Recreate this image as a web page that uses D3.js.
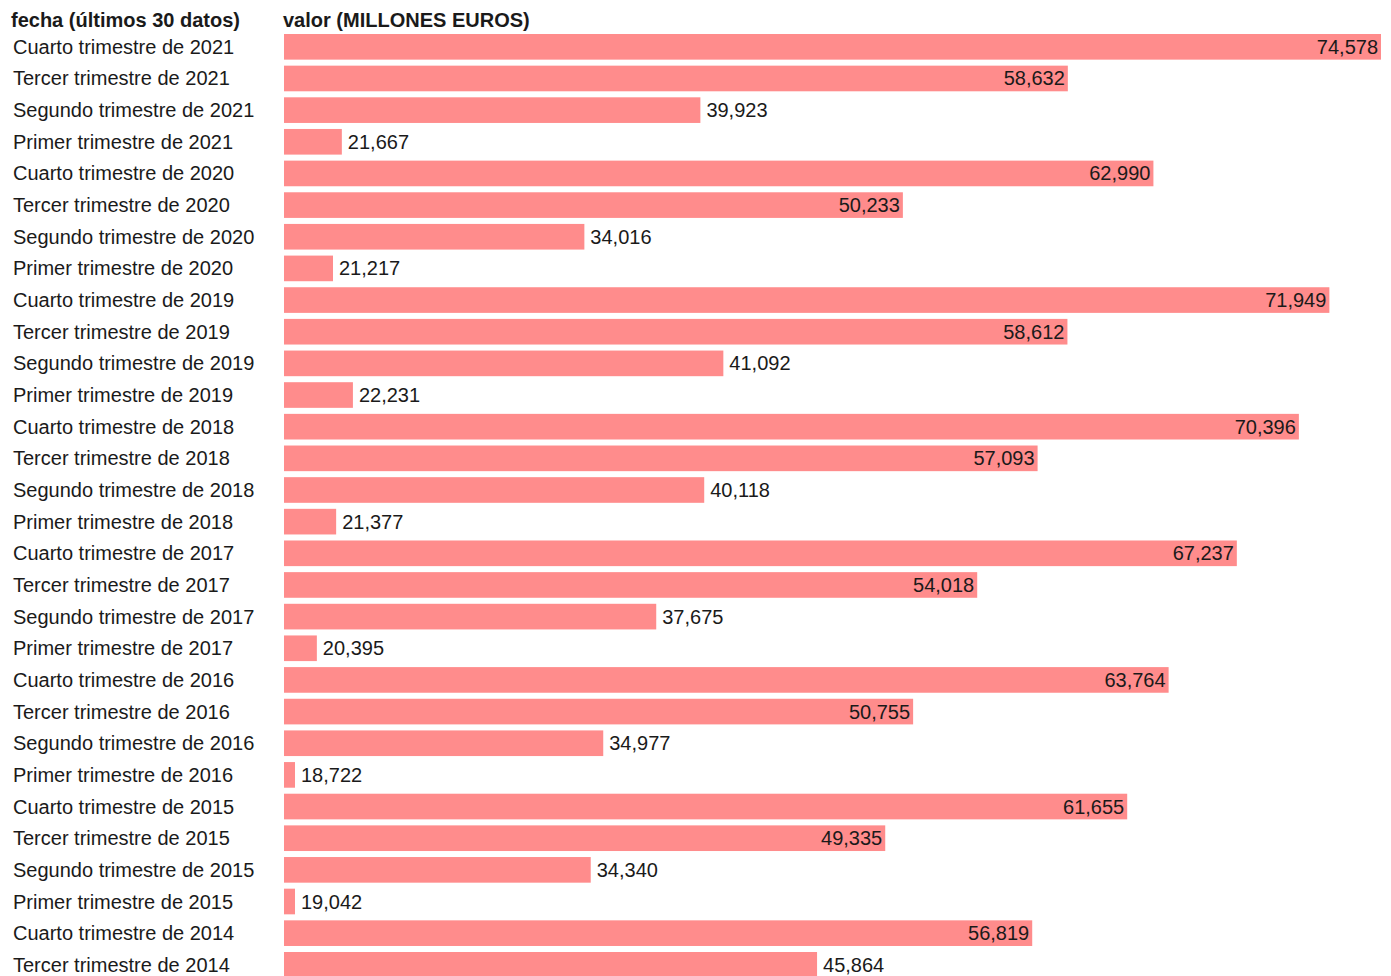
<!DOCTYPE html>
<html>
<head>
<meta charset="utf-8">
<script src="https://cdn.jsdelivr.net/npm/d3@7"></script>
<style>
  body { margin: 0; background: #fff; font-family: "Liberation Sans", Arial, sans-serif; }
  .lbl { font-size: 20px; fill: #1a1a1a; }
  .head { font-size: 20px; font-weight: bold; fill: #1a1a1a; }
</style>
</head>
<body>
<svg id="chart"></svg>
<script>
var fechas = [
	"Cuarto trimestre de 2021", "Tercer trimestre de 2021", "Segundo trimestre de 2021", "Primer trimestre de 2021",
	"Cuarto trimestre de 2020", "Tercer trimestre de 2020", "Segundo trimestre de 2020", "Primer trimestre de 2020",
	"Cuarto trimestre de 2019", "Tercer trimestre de 2019", "Segundo trimestre de 2019", "Primer trimestre de 2019",
	"Cuarto trimestre de 2018", "Tercer trimestre de 2018", "Segundo trimestre de 2018", "Primer trimestre de 2018",
	"Cuarto trimestre de 2017", "Tercer trimestre de 2017", "Segundo trimestre de 2017", "Primer trimestre de 2017",
	"Cuarto trimestre de 2016", "Tercer trimestre de 2016", "Segundo trimestre de 2016", "Primer trimestre de 2016",
	"Cuarto trimestre de 2015", "Tercer trimestre de 2015", "Segundo trimestre de 2015", "Primer trimestre de 2015",
	"Cuarto trimestre de 2014", "Tercer trimestre de 2014"
];
var valores = [
	74578, 58632, 39923, 21667,
	62990, 50233, 34016, 21217,
	71949, 58612, 41092, 22231,
	70396, 57093, 40118, 21377,
	67237, 54018, 37675, 20395,
	63764, 50755, 34977, 18722,
	61655, 49335, 34340, 19042,
	56819, 45864
];
var cabeceras = ["fecha (últimos 30 datos)", "valor (MILLONES EUROS)"];

var width = 1391;
var left = 284, right = 1381;
var topY = 34, step = 31.655, pad = 0.19;
var height = topY + step * fechas.length + 10;
var minBar = 11;

var svg = d3.select("#chart").attr("width", width).attr("height", height);

var x = d3.scaleLinear()
	.domain(d3.extent(valores))
	.range([0, right - left]);

var y = d3.scaleBand()
	.domain(fechas)
	.range([topY, topY + step * (fechas.length - pad)])
	.paddingInner(pad)
	.paddingOuter(0);

var fmt = d3.format(",");

function barW(v) { return Math.max(x(v), minBar); }

svg.append("text").attr("class", "head").attr("x", 11).attr("y", 27).text(cabeceras[0]);
svg.append("text").attr("class", "head").attr("x", 283).attr("y", 27).text(cabeceras[1]);

var rows = svg.selectAll("g.row")
	.data(fechas)
	.enter()
	.append("g")
	.attr("class", "row");

rows.append("text")
	.attr("class", "lbl")
	.attr("x", 13)
	.attr("y", function(d) { return y(d) + y.bandwidth() / 2; })
	.attr("dy", "0.35em")
	.text(function(d) { return d; });

rows.append("rect")
	.attr("x", left)
	.attr("y", function(d) { return y(d); })
	.attr("height", y.bandwidth())
	.attr("width", function(d, i) { return barW(valores[i]); })
	.style("fill", "#ff8c8c");

rows.append("text")
	.attr("class", "lbl")
	.attr("y", function(d) { return y(d) + y.bandwidth() / 2; })
	.attr("dy", "0.35em")
	.attr("x", function(d, i) {
		var w = barW(valores[i]);
		return w > (right - left) / 2 ? left + w - 3 : left + w + 6;
	})
	.attr("text-anchor", function(d, i) {
		return barW(valores[i]) > (right - left) / 2 ? "end" : "start";
	})
	.text(function(d, i) { return fmt(valores[i]); });
</script>
</body>
</html>
